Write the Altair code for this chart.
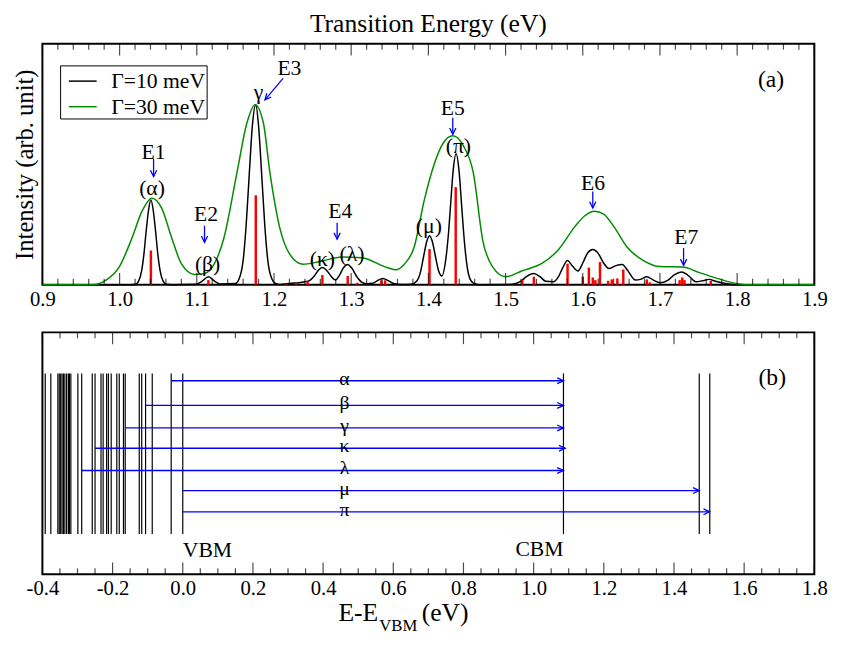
import altair as alt
import pandas as pd

FONT = "Liberation Serif"

# ---------------- panel (a): spectra ----------------
STICK_E = [1.0405, 1.115, 1.1764, 1.216, 1.229, 1.2435, 1.2627, 1.2955, 1.308, 1.339, 1.344,
           1.4015, 1.4354, 1.5217, 1.5366, 1.5803, 1.600, 1.6079, 1.613, 1.6163, 1.6223,
           1.6329, 1.6376, 1.6448, 1.6525, 1.683, 1.687, 1.7255, 1.7289, 1.7318, 1.7659]
STICK_I = [0.142, 0.019, 0.371, 0.004, 0.006, 0.015, 0.040, 0.036, 0.008, 0.018, 0.018,
           0.148, 0.405, 0.019, 0.033, 0.087, 0.033, 0.071, 0.030, 0.019, 0.094,
           0.016, 0.022, 0.026, 0.063, 0.022, 0.010, 0.019, 0.030, 0.019, 0.016]

BLACK_E = [0.900, 1.015, 1.0205, 1.0245, 1.0285, 1.0315, 1.0345, 1.0375, 1.0405, 1.0435, 1.0465, 1.0495, 1.0525, 1.0565, 1.0605, 1.068,
           1.100, 1.107, 1.115, 1.123, 1.130,
           1.150, 1.156, 1.160, 1.164, 1.168, 1.172, 1.1764, 1.180, 1.184, 1.188, 1.192, 1.196, 1.202, 1.208,
           1.222, 1.232, 1.240, 1.246, 1.252, 1.2575, 1.2627, 1.268, 1.274, 1.2796, 1.285, 1.290, 1.2953, 1.301, 1.307, 1.313, 1.320,
           1.328, 1.334, 1.341, 1.348, 1.355, 1.365,
           1.378, 1.385, 1.390, 1.394, 1.398, 1.4015, 1.405, 1.409, 1.413, 1.4176, 1.4219, 1.4259, 1.4289, 1.4319, 1.4359, 1.4399, 1.4429, 1.4459, 1.4499, 1.4539, 1.459, 1.466,
           1.505, 1.512, 1.520, 1.527, 1.5366, 1.545, 1.552, 1.562, 1.568, 1.574, 1.5803, 1.586, 1.5939, 1.600, 1.606, 1.613, 1.620, 1.627, 1.6341, 1.642, 1.6512, 1.658, 1.6682, 1.675, 1.683, 1.691, 1.700, 1.710, 1.719, 1.7277, 1.736, 1.7467, 1.755, 1.7637, 1.772, 1.785, 1.800, 1.900]
BLACK_I = [0, 0, 0.002, 0.014, 0.057, 0.127, 0.225, 0.31, 0.352, 0.31, 0.225, 0.127, 0.057, 0.014, 0.002, 0,
           0.002, 0.015, 0.033, 0.015, 0.003,
           0.005, 0.035, 0.10, 0.25, 0.46, 0.66, 0.747, 0.66, 0.46, 0.25, 0.10, 0.035, 0.005, 0.001,
           0.006, 0.008, 0.012, 0.017, 0.035, 0.06, 0.071, 0.06, 0.035, 0.019, 0.04, 0.07, 0.084, 0.068, 0.035, 0.012, 0.004,
           0.006, 0.017, 0.026, 0.017, 0.005, 0.001,
           0.002, 0.015, 0.055, 0.12, 0.18, 0.203, 0.18, 0.12, 0.06, 0.036, 0.09, 0.207, 0.337, 0.466, 0.543, 0.466, 0.337, 0.207, 0.082, 0.024, 0.005, 0.0,
           0.001, 0.004, 0.015, 0.033, 0.046, 0.032, 0.014, 0.012, 0.03, 0.07, 0.10, 0.08, 0.057, 0.09, 0.13, 0.146, 0.13, 0.09, 0.067, 0.078, 0.084, 0.06, 0.019, 0.022, 0.033, 0.02, 0.008, 0.018, 0.042, 0.053, 0.04, 0.012, 0.016, 0.022, 0.014, 0.005, 0.0, 0.0]

GREEN_E = [0.900, 0.965, 0.972, 0.9824, 0.9994, 1.0163, 1.029, 1.0418, 1.0545, 1.0673, 1.080, 1.0971, 1.1082, 1.1182, 1.1353,
           1.1522, 1.165, 1.1755, 1.1862, 1.1946, 1.2074, 1.2201, 1.2372, 1.2583, 1.2882, 1.3136, 1.3475, 1.358, 1.3688,
           1.3815, 1.3943, 1.407, 1.4197, 1.4316, 1.4452, 1.458, 1.4707, 1.4834, 1.5004, 1.5217, 1.5471, 1.5684, 1.5896,
           1.6023, 1.615, 1.6276, 1.6405, 1.6576, 1.6787, 1.700, 1.7297, 1.751, 1.7764, 1.7977, 1.810, 1.900]
GREEN_I = [0, 0, 0.003, 0.019, 0.073, 0.196, 0.305, 0.359, 0.318, 0.196, 0.087, 0.042, 0.045, 0.065, 0.196,
           0.468, 0.672, 0.747, 0.672, 0.468, 0.237, 0.128, 0.085, 0.095, 0.115, 0.112, 0.07, 0.062, 0.085,
           0.155, 0.346, 0.495, 0.59, 0.618, 0.577, 0.468, 0.18, 0.073, 0.033, 0.058, 0.088, 0.145, 0.24,
           0.285, 0.305, 0.292, 0.24, 0.155, 0.10, 0.075, 0.073, 0.05, 0.024, 0.005, 0, 0]

SERIES = ["Γ=10 meV", "Γ=30 meV"]

ANN_TEXT = ["E1", "(α)", "E2", "(β)", "γ", "E3", "E4", "(κ)", "(λ)", "(μ)", "E5", "(π)", "E6", "E7"]
ANN_E = [1.044, 1.042, 1.112, 1.114, 1.18, 1.22, 1.286, 1.2627, 1.3009, 1.4006, 1.4316, 1.4389, 1.6134, 1.734]
ANN_I = [0.55, 0.40, 0.291, 0.087, 0.80, 0.897, 0.305, 0.107, 0.128, 0.244, 0.733, 0.577, 0.42, 0.196]

ARROW_E = [1.044, 1.11, 1.2818, 1.4316, 1.613, 1.7306]
ARROW_TOP = [0.522, 0.245, 0.257, 0.693, 0.387, 0.152]
ARROW_BOT = [0.449, 0.176, 0.189, 0.624, 0.318, 0.08]
DIAG_FROM = [1.2117, 0.856]
DIAG_TO = [1.1883, 0.767]

TOP_MAJOR = [0.9, 1.0, 1.1, 1.2, 1.3, 1.4, 1.5, 1.6, 1.7, 1.8, 1.9]
TOP_MINOR = [round(0.9 + 0.02 * k, 2) for k in range(51) if k % 5 != 0]

# ---------------- panel (b): levels ----------------
VB_LEVELS = [-0.392, -0.376, -0.356, -0.352, -0.348, -0.344, -0.340, -0.336, -0.331, -0.326, -0.323, -0.319,
             -0.299, -0.288, -0.258, -0.250, -0.233, -0.227, -0.217, -0.212, -0.204, -0.188, -0.181, -0.169,
             -0.164, -0.124, -0.117, -0.106, -0.087, -0.033, 0.0]
CB_LEVELS = [1.085, 1.472, 1.502]
LEVEL_SPAN = [0.166, 0.83]

TRANS_LABEL = ["α", "β", "γ", "κ", "λ", "μ", "π"]
TRANS_FROM = [-0.033, -0.106, -0.164, -0.250, -0.288, 0.0, 0.0]
TRANS_TO = [1.085, 1.085, 1.085, 1.09, 1.085, 1.472, 1.502]
TRANS_Y = [0.80, 0.698, 0.605, 0.521, 0.429, 0.346, 0.258]
GREEK_E = 0.461

BOT_MAJOR = [-0.4, -0.2, 0.0, 0.2, 0.4, 0.6, 0.8, 1.0, 1.2, 1.4, 1.6, 1.8]
BOT_MINOR = [round(-0.4 + 0.05 * k, 2) for k in range(45) if k % 4 != 0]

# ---------------- frames ----------------
lines_df = pd.DataFrame({
    "E": BLACK_E + GREEN_E,
    "I": BLACK_I + GREEN_I,
    "series": [SERIES[0]] * len(BLACK_E) + [SERIES[1]] * len(GREEN_E),
})
stick_df = pd.DataFrame({"E": STICK_E, "I": STICK_I})
ann_df = pd.DataFrame({"t": ANN_TEXT, "E": ANN_E, "I": ANN_I})
arrow_df = pd.DataFrame({"E": ARROW_E, "top": ARROW_TOP, "bot": ARROW_BOT})
diag_df = pd.DataFrame({"E": [DIAG_FROM[0]], "I": [DIAG_FROM[1]], "E2": [DIAG_TO[0]], "I2": [DIAG_TO[1]]})
panel_a_lbl = pd.DataFrame({"t": ["(a)"], "E": [1.844], "I": [0.849]})
tmaj_df = pd.DataFrame({"E": TOP_MAJOR})
tmin_df = pd.DataFrame({"E": TOP_MINOR})

lev_df = pd.DataFrame({"E": VB_LEVELS + CB_LEVELS, "y0": LEVEL_SPAN[0], "y1": LEVEL_SPAN[1]})
tr_df = pd.DataFrame({"lab": TRANS_LABEL, "x0": TRANS_FROM, "x1": TRANS_TO, "y": TRANS_Y})
tr_df["ly"] = tr_df["y"] + 0.008
tr_df["lx"] = GREEK_E
vbm_df = pd.DataFrame({"t": ["VBM"], "E": [0.0], "y": [0.098]})
cbm_df = pd.DataFrame({"t": ["CBM"], "E": [1.085], "y": [0.105]})
b_lbl = pd.DataFrame({"t": ["(b)"], "E": [1.68], "y": [0.81]})
# axis title of panel (b): "E-E" + subscript "VBM" + "(eV)"
xt_main_r = pd.DataFrame({"t": ["E-E"], "E": [0.557], "y": [-0.162]})
xt_sub = pd.DataFrame({"t": ["VBM"], "E": [0.560], "y": [-0.215]})
xt_unit = pd.DataFrame({"t": ["(eV)"], "E": [0.681], "y": [-0.162]})
bmaj_df = pd.DataFrame({"E": BOT_MAJOR})
bmin_df = pd.DataFrame({"E": BOT_MINOR})

# ---------------- scales / axes ----------------
XS_A = alt.Scale(domain=[0.9, 1.9], nice=False, zero=False)
YS_A = alt.Scale(domain=[0, 1], nice=False)
AX_XA = alt.Axis(values=TOP_MAJOR, format=".1f", ticks=False, domain=False, grid=False,
                 labelFontSize=21, labelPadding=4, labelFlush=False, labelOverlap=False, title=None)
AX_YA = alt.Axis(title="Intensity (arb. unit)", ticks=False, labels=False, domain=False, grid=False,
                 titleFontSize=25, titlePadding=5, titleFontWeight="normal")


def xa(f):
    return alt.X(f, type="quantitative", scale=XS_A, axis=AX_XA)


def ya(f):
    return alt.Y(f, type="quantitative", scale=YS_A, axis=AX_YA)


XS_B = alt.Scale(domain=[-0.4, 1.8], nice=False, zero=False)
YS_B = alt.Scale(domain=[0, 1], nice=False)
AX_XB = alt.Axis(values=BOT_MAJOR, labelExpr="replace(format(datum.value, '.1f'), '\u2212', '-')",
                 ticks=False, domain=False, grid=False, labelFontSize=21, labelPadding=4,
                 labelFlush=False, labelOverlap=False, title=None)


def xb(f):
    return alt.X(f, type="quantitative", scale=XS_B, axis=AX_XB)


def yb(f):
    return alt.Y(f, type="quantitative", scale=YS_B, axis=None)


DOWN = "M-0.45,-0.9L0,0L0.45,-0.9"
RIGHT = "M-0.9,-0.42L0,0L-0.9,0.42"
BLUE = "#0000ff"

# ---------------- panel (a) layers ----------------
curves = alt.Chart(lines_df).mark_line(strokeWidth=1.5, interpolate="monotone").encode(
    x=xa("E"), y=ya("I"),
    color=alt.Color("series:N", scale=alt.Scale(domain=SERIES, range=["#000000", "#008b00"]),
                    legend=alt.Legend(orient="none", legendX=18, legendY=22, title=None,
                                      symbolType="stroke", symbolSize=800, symbolStrokeWidth=1.5,
                                      labelFont=FONT, labelFontSize=22, labelOffset=14, labelLimit=0,
                                      labelExpr="datum.label + '\u00a0\u00a0'",
                                      padding=1, symbolOffset=7, rowPadding=-7,
                                      strokeColor="black", fillColor="white")),
)
sticks = alt.Chart(stick_df).mark_rule(color="#ff0000", strokeWidth=2.5).encode(
    x=xa("E"), y=ya("I"), y2=alt.datum(0))
ann = alt.Chart(ann_df).mark_text(font=FONT, fontSize=22, color="black", baseline="middle").encode(
    x=xa("E"), y=ya("I"), text="t:N")
albl = alt.Chart(panel_a_lbl).mark_text(font=FONT, fontSize=24, color="black", baseline="middle").encode(
    x=xa("E"), y=ya("I"), text="t:N")
arr = alt.Chart(arrow_df).mark_rule(color=BLUE, strokeWidth=1.3).encode(
    x=xa("E"), y=ya("top"), y2="bot:Q")
arrh = alt.Chart(arrow_df).mark_point(shape=DOWN, size=200, color=BLUE, filled=False,
                                      strokeWidth=1.3, opacity=1).encode(x=xa("E"), y=ya("bot"))
diag = alt.Chart(diag_df).mark_rule(color=BLUE, strokeWidth=1.3).encode(
    x=xa("E"), y=ya("I"), x2="E2:Q", y2="I2:Q")
diagh = alt.Chart(diag_df).mark_point(shape=RIGHT, size=200, angle=130, color=BLUE, filled=False,
                                      strokeWidth=1.3, opacity=1).encode(x=xa("E2"), y=ya("I2"))


def tick_layers(df, xfn, yscale, size):
    lo = alt.Chart(df).mark_tick(orient="vertical", size=size, thickness=1.2, color="black",
                                 yOffset=-size / 2).encode(
        x=xfn("E"), y=alt.YDatum(0, scale=yscale))
    hi = alt.Chart(df).mark_tick(orient="vertical", size=size, thickness=1.2, color="black",
                                 yOffset=size / 2).encode(
        x=xfn("E"), y=alt.YDatum(1, scale=yscale))
    return [lo, hi]


top = alt.layer(
    curves, sticks, ann, albl, arr, arrh, diag, diagh,
    *tick_layers(tmaj_df, xa, YS_A, 12), *tick_layers(tmin_df, xa, YS_A, 6),
).properties(
    width=785, height=245,
    title=alt.TitleParams("Transition Energy (eV)", font=FONT, fontSize=26, fontWeight="normal",
                          color="black", offset=7, anchor="middle"),
)

# ---------------- panel (b) layers ----------------
levels = alt.Chart(lev_df).mark_rule(color="black", strokeWidth=1.2).encode(
    x=xb("E"), y=yb("y0"), y2="y1:Q")
trans = alt.Chart(tr_df).mark_rule(color=BLUE, strokeWidth=1.3).encode(
    x=xb("x0"), x2="x1:Q", y=yb("y"))
transh = alt.Chart(tr_df).mark_point(shape=RIGHT, size=200, color=BLUE, filled=False,
                                     strokeWidth=1.3, opacity=1).encode(x=xb("x1"), y=yb("y"))
greek = alt.Chart(tr_df).mark_text(font=FONT, fontSize=20, color="black", baseline="middle").encode(
    x=xb("lx"), y=yb("ly"), text="lab:N")
vbm = alt.Chart(vbm_df).mark_text(font=FONT, fontSize=22, color="black", baseline="middle", align="left").encode(
    x=xb("E"), y=yb("y"), text="t:N")
cbm = alt.Chart(cbm_df).mark_text(font=FONT, fontSize=22, color="black", baseline="middle", align="right").encode(
    x=xb("E"), y=yb("y"), text="t:N")
blbl = alt.Chart(b_lbl).mark_text(font=FONT, fontSize=24, color="black", baseline="middle").encode(
    x=xb("E"), y=yb("y"), text="t:N")
xt1 = alt.Chart(xt_main_r).mark_text(font=FONT, fontSize=26, color="black", baseline="middle", align="right").encode(
    x=xb("E"), y=yb("y"), text="t:N")
xt2 = alt.Chart(xt_sub).mark_text(font=FONT, fontSize=17, color="black", baseline="middle", align="left").encode(
    x=xb("E"), y=yb("y"), text="t:N")
xt3 = alt.Chart(xt_unit).mark_text(font=FONT, fontSize=26, color="black", baseline="middle", align="left").encode(
    x=xb("E"), y=yb("y"), text="t:N")

bot = alt.layer(
    levels, trans, transh, greek, vbm, cbm, blbl, xt1, xt2, xt3,
    *tick_layers(bmaj_df, xb, YS_B, 12), *tick_layers(bmin_df, xb, YS_B, 6),
).properties(width=785, height=246)

chart = alt.vconcat(top, bot, spacing=48.5, bounds="flush").resolve_scale(
    color="independent"
).properties(
    padding={"left": 4, "top": -3, "right": 5, "bottom": 0}
).configure(font=FONT).configure_view(
    stroke="black", strokeWidth=2
).configure_axis(
    labelFont=FONT, titleFont=FONT, labelColor="black", titleColor="black", titleFontWeight="normal"
)

chart.save("out.html", embed_options={"renderer": "svg", "actions": False})
